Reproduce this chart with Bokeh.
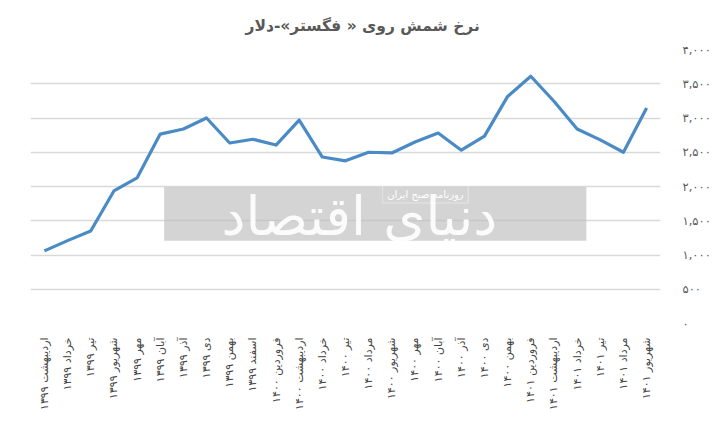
import math
from bokeh.plotting import figure
from bokeh.models import FixedTicker, BoxAnnotation, Range1d
from bokeh.core.properties import value
from bokeh.embed import file_html
from bokeh.resources import INLINE

months = [
    "اردیبهشت ۱۳۹۹", "خرداد ۱۳۹۹", "تیر ۱۳۹۹", "شهریور ۱۳۹۹", "مهر ۱۳۹۹",
    "آبان ۱۳۹۹", "آذر ۱۳۹۹", "دی ۱۳۹۹", "بهمن ۱۳۹۹", "اسفند ۱۳۹۹",
    "فروردین ۱۴۰۰", "اردیبهشت ۱۴۰۰", "خرداد ۱۴۰۰", "تیر ۱۴۰۰", "مرداد ۱۴۰۰",
    "شهریور ۱۴۰۰", "مهر ۱۴۰۰", "آبان ۱۴۰۰", "آذر ۱۴۰۰", "دی ۱۴۰۰", "بهمن ۱۴۰۰",
    "فروردین ۱۴۰۱", "اردیبهشت ۱۴۰۱", "خرداد ۱۴۰۱", "تیر ۱۴۰۱", "مرداد ۱۴۰۱",
    "شهریور ۱۴۰۱",
]
prices = [1060, 1210, 1350, 1935, 2125, 2765, 2840, 3000, 2635, 2690, 2605,
          2970, 2430, 2375, 2500, 2490, 2650, 2780, 2530, 2735, 3315, 3610,
          3245, 2840, 2680, 2500, 3145]
y_ticks = [0, 500, 1000, 1500, 2000, 2500, 3000, 3500, 4000]
y_tick_labels = ["۰", "۵۰۰", "۱,۰۰۰", "۱,۵۰۰", "۲,۰۰۰", "۲,۵۰۰", "۳,۰۰۰", "۳,۵۰۰", "۴,۰۰۰"]
title_text = "نرخ شمش روی « فگستر»-دلار"
watermark_text = "دنیای اقتصاد"
watermark_sub = "روزنامه صبح ایران"

FONT = "DejaVu Sans"
GREY = "#595959"

x = list(range(len(months)))

p = figure(width=720, height=420, output_backend="svg", toolbar_location=None,
           y_axis_location="right",
           x_range=Range1d(-0.6, len(months) - 1 + 0.6),
           y_range=Range1d(0, 4000),
           min_border_left=30, min_border_right=60, min_border_top=48,
           min_border_bottom=97)

p.title.text = title_text
p.title.align = "left"
p.title.text_font = FONT
p.title.text_font_size = "15.5px"
p.title.text_font_style = "bold"
p.title.text_color = GREY
p.title.standoff = 29
p.title.offset = 215

p.outline_line_color = None
p.xgrid.grid_line_color = None
p.ygrid.grid_line_color = "#d9d9d9"
p.ygrid.grid_line_width = 1.5

p.xaxis.ticker = FixedTicker(ticks=x)
p.xaxis.major_label_overrides = {i: m for i, m in zip(x, months)}
p.xaxis.major_label_orientation = math.pi / 2
p.yaxis.ticker = FixedTicker(ticks=y_ticks)
p.yaxis.major_label_overrides = {t: l for t, l in zip(y_ticks, y_tick_labels)}

for ax in (p.xaxis, p.yaxis):
    ax.axis_line_color = None
    ax.major_tick_line_color = None
    ax.minor_tick_line_color = None
    ax.major_label_text_font = FONT
    ax.major_label_text_font_size = "11px"
    ax.major_label_text_color = "#454545"
p.yaxis.major_label_text_font_size = "11.5px"
p.yaxis.major_label_text_color = GREY
p.xaxis.major_label_standoff = 8
p.yaxis.major_label_standoff = 16

# watermark
p.add_layout(BoxAnnotation(left=5.17, right=23.4, bottom=1208, top=1993,
                           fill_color="#bdbdbd", fill_alpha=0.65, line_color=None,
                           level="underlay"))
p.text(x=[13.6], y=[1560], text=[watermark_text], text_color="white",
       text_alpha=0.9, text_font=value(FONT), text_font_size="54px",
       text_align="center", text_baseline="middle")
p.add_layout(BoxAnnotation(left=14.6, right=18.3, bottom=1760, top=2020,
                           fill_color=None, line_color="white", line_width=1.5))
p.text(x=[16.45], y=[1890], text=[watermark_sub], text_color="white",
       text_font=value(FONT), text_font_size="10px",
       text_align="center", text_baseline="middle")

p.line(x, prices, line_color="#4a8bc6", line_width=3.2, line_join="round")

open("out.html", "w").write(file_html(p, INLINE))
